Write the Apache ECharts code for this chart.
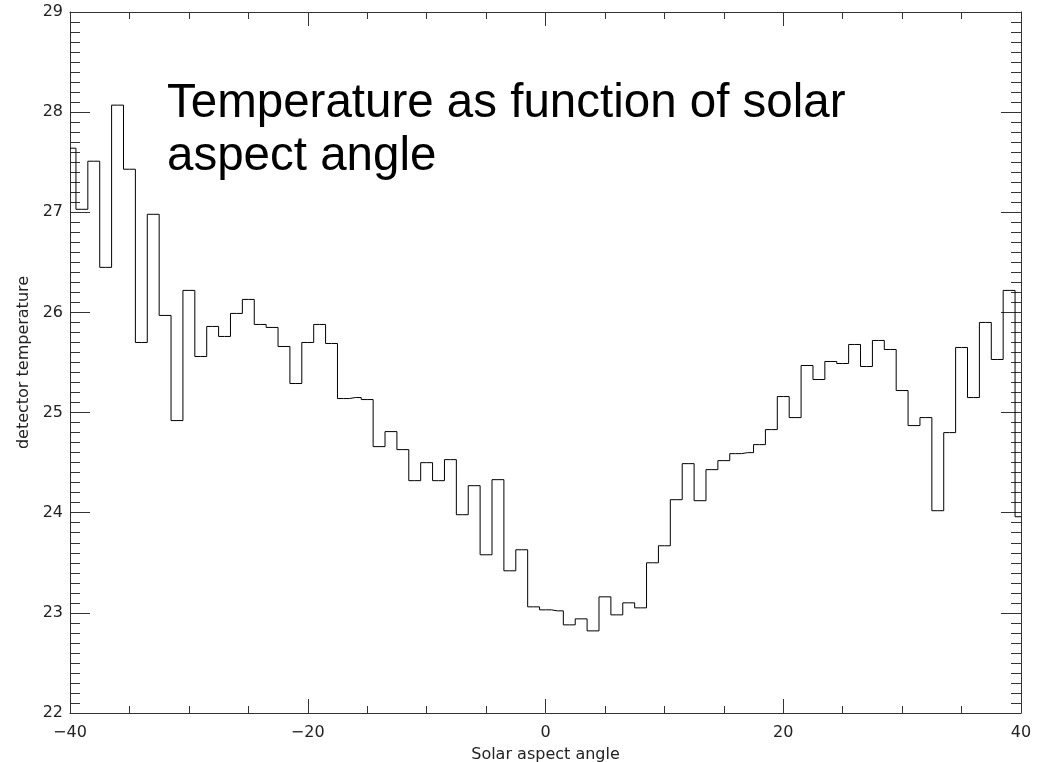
<!DOCTYPE html>
<html>
<head>
<meta charset="utf-8">
<script src="https://cdn.jsdelivr.net/npm/echarts@6/dist/echarts.min.js"></script>
<style>
html,body{margin:0;padding:0;background:#fff;}
#chart{width:1039px;height:762px;}
</style>
</head>
<body>
<div id="chart"></div>
<script>
// Solar aspect angle (degrees), one value per bin centre
const angles = [-40,-39,-38,-37,-36,-35,-34,-33,-32,-31,-30,-29,-28,-27,-26,-25,-24,-23,-22,-21,
  -20,-19,-18,-17,-16,-15,-14,-13,-12,-11,-10,-9,-8,-7,-6,-5,-4,-3,-2,-1,
  0,1,2,3,4,5,6,7,8,9,10,11,12,13,14,15,16,17,18,19,
  20,21,22,23,24,25,26,27,28,29,30,31,32,33,34,35,36,37,38,39,40];
// Detector temperature per bin
const temps = [27.64,27.03,27.51,26.45,28.07,27.43,25.70,26.98,25.97,24.92,26.22,25.56,25.86,25.76,25.99,26.13,25.88,25.85,25.66,25.29,
  25.70,25.88,25.69,25.14,25.15,25.13,24.66,24.81,24.63,24.32,24.50,24.32,24.53,23.98,24.27,23.58,24.33,23.42,23.63,23.06,
  23.03,23.02,22.88,22.94,22.82,23.16,22.98,23.10,23.05,23.50,23.67,24.13,24.49,24.12,24.43,24.52,24.59,24.60,24.68,24.83,
  25.16,24.95,25.47,25.33,25.51,25.49,25.68,25.46,25.72,25.63,25.22,24.87,24.95,24.02,24.80,25.65,25.15,25.90,25.53,26.22,23.96];
const xTicks = [-40, -20, 0, 20, 40];
const yTicks = [22, 23, 24, 25, 26, 27, 28, 29];
const titleLines = ['Temperature as function of solar', 'aspect angle'];
const xName = 'Solar aspect angle';
const yName = 'detector temperature';

const axisColor = '#333';
const labelFont = {fontFamily: 'DejaVu Sans', fontSize: 16, color: '#222'};
const fmt = v => String(v).replace('-', '\u2212');

const chart = echarts.init(document.getElementById('chart'), null, {renderer: 'canvas'});

function xAxisDef(pos, showLabel) {
  return {
    type: 'value', position: pos,
    min: xTicks[0], max: xTicks[xTicks.length - 1], interval: xTicks[1] - xTicks[0],
    name: showLabel ? xName : '', nameLocation: 'middle', nameGap: 34,
    nameTextStyle: Object.assign({}, labelFont),
    axisLine: {show: true, onZero: false, lineStyle: {color: axisColor, width: 1}},
    axisTick: {show: true, inside: true, length: 14, lineStyle: {color: axisColor, width: 1}},
    minorTick: {show: true, splitNumber: 4, length: 7, lineStyle: {color: axisColor, width: 1}},
    axisLabel: {show: showLabel, margin: 12, formatter: fmt, ...labelFont},
    splitLine: {show: false}, minorSplitLine: {show: false}
  };
}
function yAxisDef(pos, showLabel) {
  return {
    type: 'value', position: pos,
    min: yTicks[0], max: yTicks[yTicks.length - 1], interval: yTicks[1] - yTicks[0],
    name: showLabel ? yName : '', nameLocation: 'middle', nameGap: 30,
    nameTextStyle: Object.assign({}, labelFont),
    axisLine: {show: true, onZero: false, lineStyle: {color: axisColor, width: 1}},
    axisTick: {show: true, inside: true, length: 20, lineStyle: {color: axisColor, width: 1}},
    minorTick: {show: true, splitNumber: 10, length: 10, lineStyle: {color: axisColor, width: 1}},
    axisLabel: {show: showLabel, margin: 7, formatter: fmt, padding: [0, 0, 6, 0], ...labelFont},
    splitLine: {show: false}, minorSplitLine: {show: false}
  };
}

chart.setOption({
  animation: false,
  backgroundColor: '#fff',
  grid: {left: 70, right: 18, top: 12, bottom: 49, containLabel: false, outerBoundsMode: 'none'},
  xAxis: [xAxisDef('bottom', true), xAxisDef('top', false)],
  yAxis: [yAxisDef('left', true), yAxisDef('right', false)],
  series: [{
    type: 'line', step: 'middle', xAxisIndex: 0, yAxisIndex: 0,
    showSymbol: false, symbol: 'none',
    lineStyle: {color: '#000', width: 1},
    data: angles.map((a, i) => [a, temps[i]])
  }],
  graphic: titleLines.map((t, i) => ({
    type: 'text', left: 167, top: 80 + i * 53,
    style: {text: t, font: '47.5px "Liberation Sans", Arial, sans-serif', fill: '#000'}
  }))
});
</script>
</body>
</html>
